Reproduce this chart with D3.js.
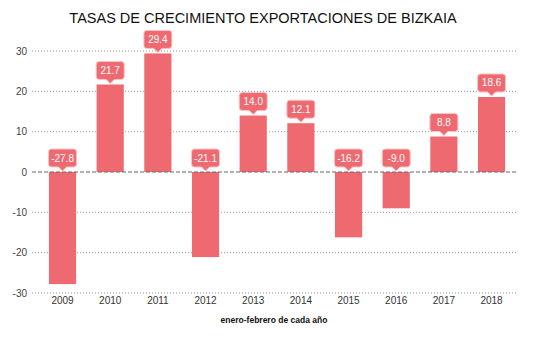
<!DOCTYPE html>
<html>
<head>
<meta charset="utf-8">
<script src="https://cdn.jsdelivr.net/npm/d3@7"></script>
<style>
  body { margin: 0; background: #fff; }
  text { font-family: "Liberation Sans", Arial, sans-serif; }
</style>
</head>
<body>
<div id="chart"></div>
<script>
// data
var years = ["2009", "2010", "2011", "2012", "2013", "2014", "2015", "2016", "2017", "2018"];
var rates = [-27.8, 21.7, 29.4, -21.1, 14.0, 12.1, -16.2, -9.0, 8.8, 18.6];
var yTicks = [-30, -20, -10, 0, 10, 20, 30];

var W = 552, H = 351;
var gridLeft = 32, gridRight = 517;

var svg = d3.select("#chart")
    .append("svg")
    .attr("width", W)
    .attr("height", H);

var data = years.map(function (y, i) { return { year: y, value: rates[i] }; });

var x = d3.scaleBand()
    .domain(years)
    .range([38.7, 515.4])
    .paddingInner(0.43)
    .paddingOuter(0.215);

var y = d3.scaleLinear()
    .domain([-30, 30])
    .range([293, 51]);

var barColor = "#ef6a70";

// title
svg.append("text")
    .attr("x", 263)
    .attr("y", 23)
    .attr("text-anchor", "middle")
    .style("font-size", "14.5px")
    .style("fill", "#111")
    .text("TASAS DE CRECIMIENTO EXPORTACIONES DE BIZKAIA");

// grid lines
svg.append("g")
    .selectAll("line")
    .data(yTicks.filter(function (d) { return d !== 0; }))
    .enter()
    .append("line")
    .attr("x1", gridLeft)
    .attr("x2", gridRight)
    .attr("y1", function (d) { return y(d); })
    .attr("y2", function (d) { return y(d); })
    .style("stroke", "#999")
    .style("stroke-width", 1)
    .style("stroke-dasharray", "1,2");

// y axis labels
var yAxis = d3.axisLeft(y).tickValues(yTicks).tickSize(0).tickPadding(0)
    .tickFormat(function (d) { return String(d); });
var gy = svg.append("g")
    .attr("transform", "translate(" + (gridLeft - 5) + ",0)")
    .call(yAxis);
gy.select(".domain").remove();
gy.selectAll("text")
    .style("font-size", "10px")
    .style("fill", "#444")
    .style("font-family", "'Liberation Sans', Arial, sans-serif");

// bars
svg.append("g")
    .selectAll("rect")
    .data(data)
    .enter()
    .append("rect")
    .attr("x", function (d) { return x(d.year); })
    .attr("width", x.bandwidth())
    .attr("y", function (d) { return y(Math.max(0, d.value)); })
    .attr("height", function (d) { return Math.abs(y(d.value) - y(0)); })
    .style("fill", barColor);

// zero line
svg.append("line")
    .attr("x1", gridLeft)
    .attr("x2", gridRight)
    .attr("y1", y(0))
    .attr("y2", y(0))
    .style("stroke", "#666")
    .style("stroke-width", 1)
    .style("stroke-dasharray", "4,2");

// x axis labels
var xAxis = d3.axisBottom(x).tickSize(0).tickPadding(0);
var gx = svg.append("g")
    .attr("transform", "translate(0,297)")
    .call(xAxis);
gx.select(".domain").remove();
gx.selectAll("text")
    .style("font-size", "10px")
    .style("fill", "#333")
    .style("font-family", "'Liberation Sans', Arial, sans-serif");

// x axis title
svg.append("text")
    .attr("x", 274)
    .attr("y", 323)
    .attr("text-anchor", "middle")
    .style("font-size", "8.5px")
    .style("font-weight", "bold")
    .style("fill", "#111")
    .text("enero-febrero de cada año");

// value callouts
var boxW = 28, boxH = 18, tip = 5;
var callouts = svg.append("g")
    .selectAll("g")
    .data(data)
    .enter()
    .append("g")
    .attr("transform", function (d) {
        var cx = x(d.year) + x.bandwidth() / 2;
        var cy = y(Math.max(0, d.value));
        return "translate(" + cx + "," + cy + ")";
    });

callouts.append("path")
    .attr("d", function () {
        var r = 3, hw = boxW / 2, b = -tip, t = -tip - boxH;
        return "M" + (-hw + r) + "," + t +
            "H" + (hw - r) + "Q" + hw + "," + t + " " + hw + "," + (t + r) +
            "V" + (b - r) + "Q" + hw + "," + b + " " + (hw - r) + "," + b +
            "H4L0,-1L-4," + b +
            "H" + (-hw + r) + "Q" + (-hw) + "," + b + " " + (-hw) + "," + (b - r) +
            "V" + (t + r) + "Q" + (-hw) + "," + t + " " + (-hw + r) + "," + t + "Z";
    })
    .style("fill", barColor)
    .style("stroke", "#f8c4c6")
    .style("stroke-width", 1);

callouts.append("text")
    .attr("x", 0)
    .attr("y", -tip - boxH / 2 + 3.5)
    .attr("text-anchor", "middle")
    .style("font-size", "10px")
    .style("fill", "#fff")
    .text(function (d) { return d.value.toFixed(1); });
</script>
</body>
</html>
